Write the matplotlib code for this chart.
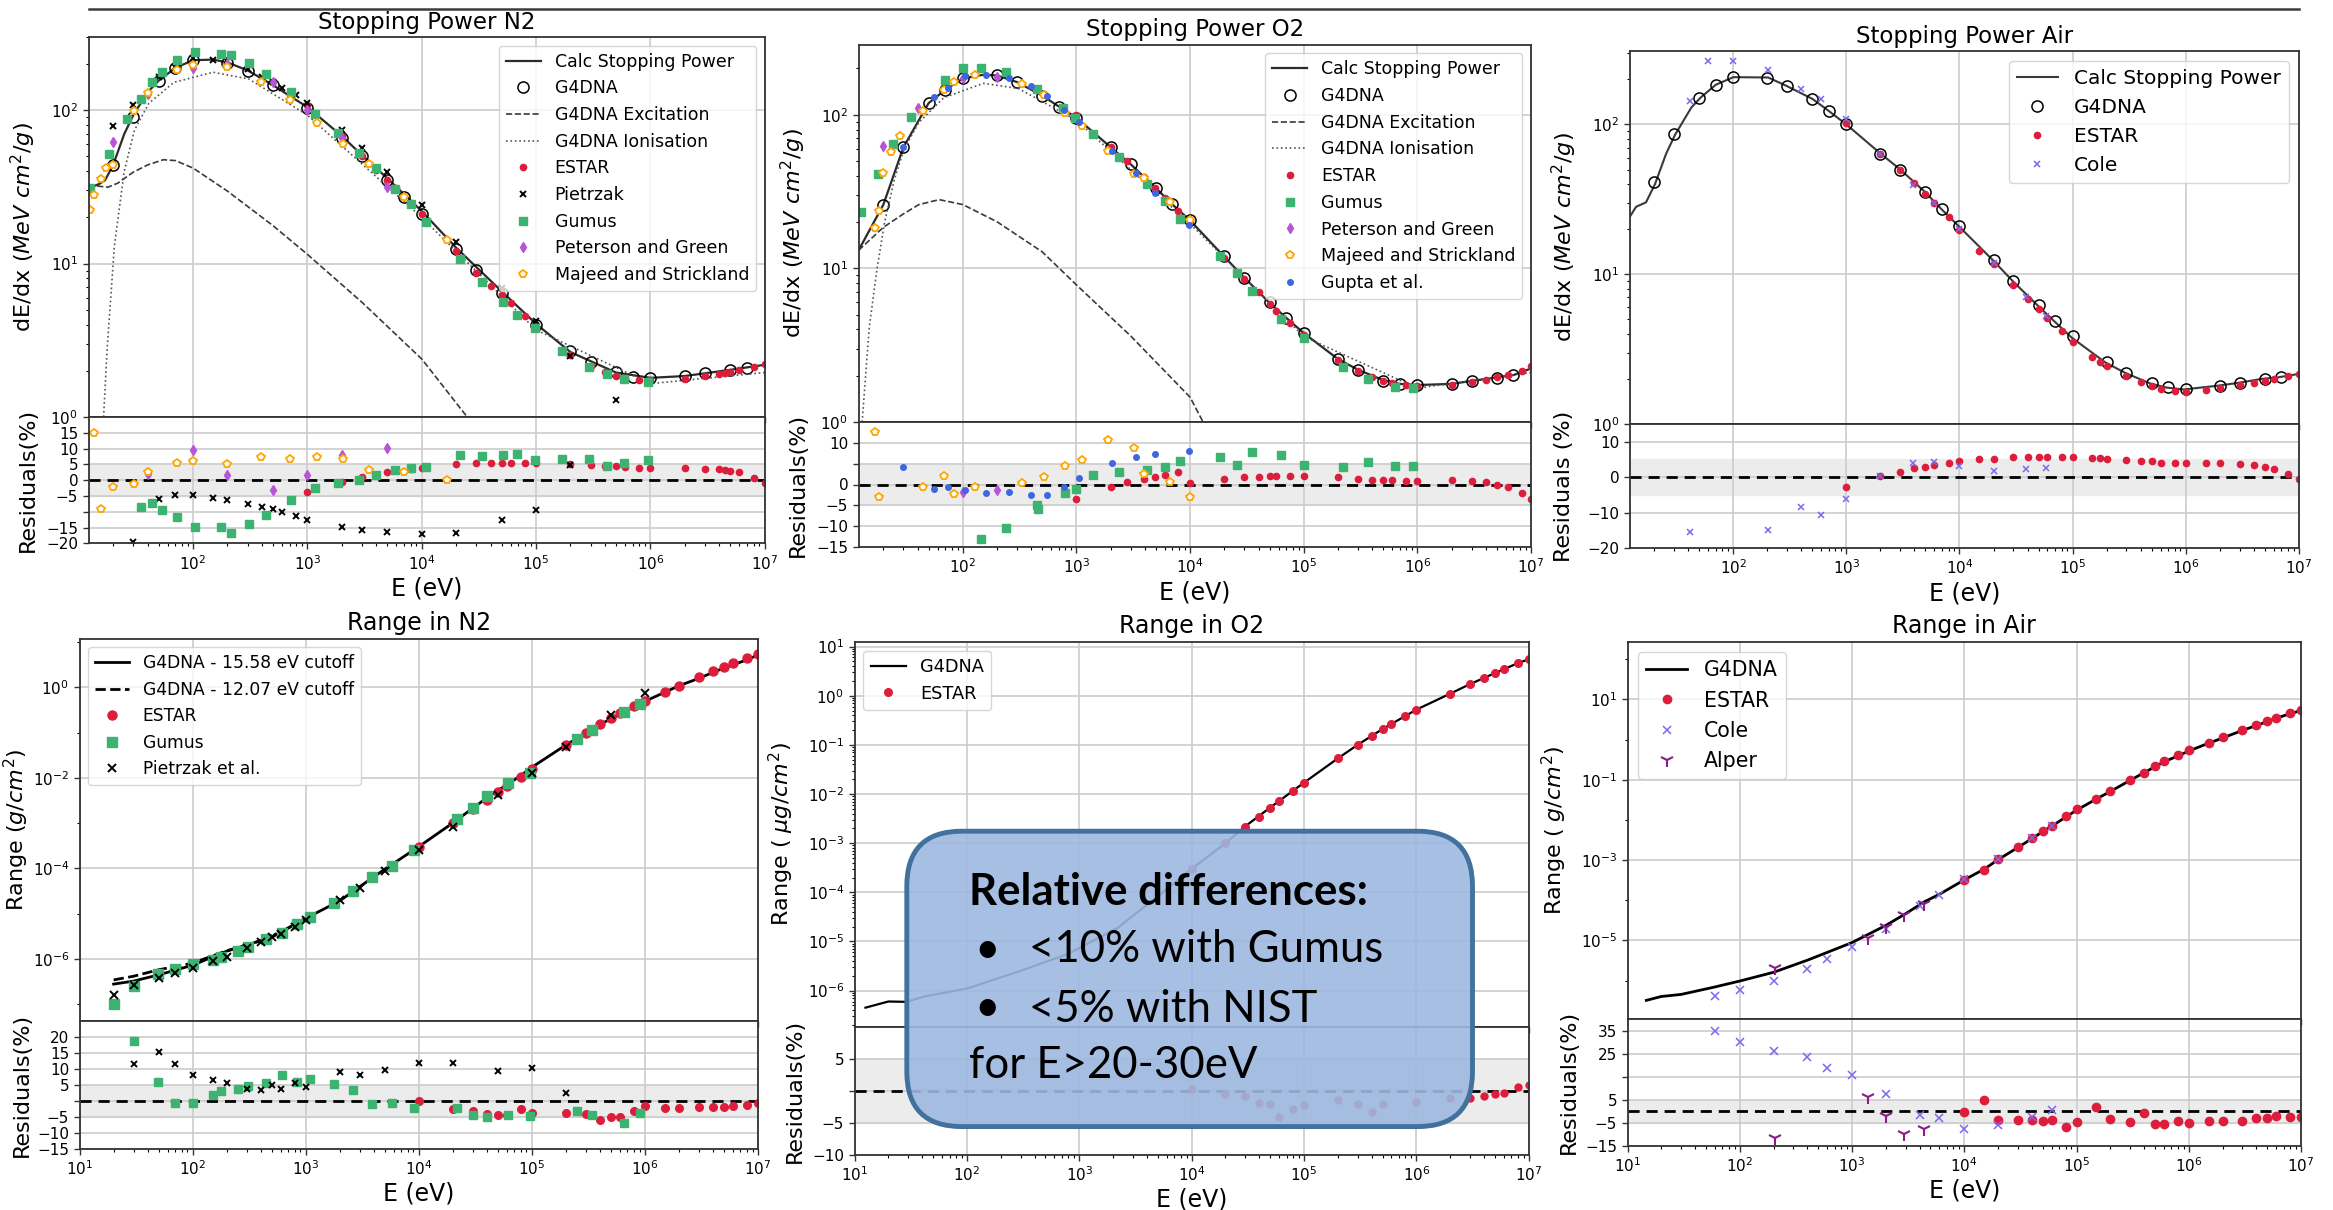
import numpy as np
import matplotlib.pyplot as plt
from matplotlib.patches import FancyBboxPatch
from matplotlib.ticker import LogLocator, NullFormatter

# ---------------- Stopping power in N2 ----------------
e_calc_n2 = [12.2, 15, 17, 20, 25, 30, 40, 50, 70, 100, 150, 200, 300, 500, 700, 1e3, 2e3, 3e3, 5e3,
             1e4, 2e4, 5e4, 1e5, 2e5, 5e5, 1e6, 2e6, 5e6, 1e7]
sp_calc_n2 = [31, 33, 35, 44, 70, 93, 131, 156, 189, 212, 214, 205, 182, 146, 124, 105, 68, 51, 36,
              22, 12.7, 6.6, 4.05, 2.65, 1.95, 1.80, 1.85, 2.03, 2.19]
e_exc_n2 = [12.2, 15, 18, 22, 30, 40, 55, 70, 100, 200, 500, 1e3, 3e3, 1e4, 2.5e4]
sp_exc_n2 = [31, 32, 31.5, 33.5, 39.5, 44, 47.6, 47, 42, 29.7, 17.7, 11.5, 5.6, 2.39, 1.0]
e_ion_n2 = [16.5, 17.7, 20.5, 25, 30.7, 41, 68, 150, 307, 1e3, 1e4, 1e5, 1e6, 1e7]
sp_ion_n2 = [1.0, 2.75, 13, 40, 74, 111, 152, 177, 160, 93, 20, 3.7, 1.65, 1.95]
e_g4_n2 = [20, 30, 50, 70, 100, 200, 300, 500, 1e3, 2e3, 3e3, 5e3, 7e3, 1e4, 2e4, 3e4, 5e4, 1e5, 2e5,
           3e5, 5e5, 7e5, 1e6, 2e6, 3e6, 5e6, 7e6]
sp_g4_n2 = [44, 90.7, 156, 188, 212, 203, 180, 146, 103, 66, 50, 35.3, 27, 21, 12.4, 9.1, 6.4, 4.0, 2.7,
            2.27, 1.98, 1.83, 1.8, 1.86, 1.94, 2.04, 2.1]
e_estar_n2 = [1e3, 2e3, 3e3, 4e3, 5e3, 6e3, 8e3, 1e4, 2e4, 3e4, 4e4, 5e4, 6e4, 8e4, 1e5, 2e5, 3e5, 4e5,
              5e5, 6e5, 8e5, 1e6, 2e6, 3e6, 4e6, 4.5e6, 5e6, 6e6, 8e6, 1e7]
sp_estar_n2 = [109, 68.4, 50.5, 40.8, 35, 31, 25, 21.2, 12.1, 8.7, 7.2, 6.25, 5.5, 4.55, 3.84, 2.52, 2.15,
               1.96, 1.86, 1.8, 1.75, 1.73, 1.78, 1.86, 1.91, 1.94, 1.97, 2.02, 2.13, 2.21]
res_estar_n2 = [-3.8, -0.6, 0.9, 1.8, 2.7, 3.1, 3.7, 3.9, 5.2, 5.5, 5.5, 5.5, 5.5, 5.5, 5.5, 5.2, 4.8, 4.6,
                4.6, 4.2, 3.9, 3.9, 3.9, 3.7, 3.4, 3.2, 3.0, 2.5, 0.6, -1.0]
e_pie_n2 = [20, 30, 50, 70, 100, 150, 200, 300, 400, 500, 600, 800, 1e3, 2e3, 3e3, 5e3, 1e4, 2e4, 5e4,
            1e5, 2e5, 5e5]
sp_pie_n2 = [79.5, 108, 165, 191, 220, 214, 210, 185, 166, 154, 140, 125, 111, 74, 57, 39.5, 24.2, 13.8,
             6.9, 4.2, 2.5, 1.3]
e_pie_res_n2 = [30, 50, 70, 100, 150, 200, 300, 400, 500, 600, 800, 1e3, 2e3, 3e3, 5e3, 1e4, 2e4, 5e4,
                1e5, 2e5]
res_pie_n2 = [-19.4, -5.9, -4.7, -4.7, -5.5, -6.2, -7.4, -8.4, -9.0, -10.0, -11.4, -12.7, -14.8, -15.7,
              -16.4, -17.0, -16.7, -12.7, -9.3, 4.9]
e_gum_n2 = [12.6, 18.3, 26.4, 35, 43.6, 53.3, 73, 105, 177, 216, 307, 436, 718, 1160, 1860, 2840, 3950,
            5880, 8000, 11000, 21500, 33700, 51900, 68000, 98000, 167000, 290000, 420000, 590000, 950000]
sp_gum_n2 = [31, 52, 88, 119, 152, 177, 214, 240, 233, 229, 202, 172, 131, 95, 71, 53, 42, 30.6, 24.3,
             18.6, 10.8, 7.6, 5.6, 4.6, 3.8, 2.7, 2.13, 1.92, 1.76, 1.69]
e_gum_res_n2 = e_gum_n2[3:]
res_gum_n2 = [-8.6, -7.1, -9.3, -11.8, -14.9, -14.9, -16.7, -13.9, -11, -6.2, -2.6, -1.0, 0.2, 1.5, 3.1,
              3.9, 4.3, 8, 7.6, 8, 8.2, 6.4, 6.8, 6.6, 4.6, 5.4, 6.4]
e_pet_n2 = [20, 40.7, 100, 200, 500, 1e3, 2e3, 5e3]
sp_pet_n2 = [62.5, 128, 188, 199, 152, 100, 66, 31.7]
res_pet_n2 = [None, 2.1, 9.7, 1.7, -3.1, 1.7, 8, 10.1]
e_maj_n2 = [12.6, 13.7, 15.7, 17.4, 20, 30.7, 40.7, 73, 100, 200, 394, 700, 1220, 2050, 3450, 7000, 16700]
sp_maj_n2 = [22.5, 28, 35.6, 41.9, 44, 99, 130, 182, 197, 191, 152, 116, 83, 60, 44.4, 27, 14.3]
res_maj_n2 = [None, 15, -9, None, -2, -1.2, 2.7, 5.5, 6.1, 5.2, 7.3, 6.8, 7.3, 6.6, 3.1, 2.5, 0]

# ---------------- Stopping power in O2 ----------------
e_calc_o2 = [12.1, 20, 30, 50, 70, 100, 152, 200, 300, 500, 700, 1e3, 2e3, 3e3, 5e3, 7e3, 1e4, 2e4, 3e4,
             5e4, 7e4, 1e5, 2e5, 3e5, 5e5, 7e5, 1e6, 2e6, 3e6, 5e6, 7e6, 1e7]
sp_calc_o2 = [13.1, 26, 61.4, 119, 145, 172, 182, 180, 163, 133, 113, 95.5, 61.4, 47.6, 33.3, 26, 20.5,
              11.9, 8.7, 5.96, 4.77, 3.79, 2.57, 2.19, 1.87, 1.77, 1.74, 1.77, 1.85, 1.95, 2.02, 2.23]
e_exc_o2 = [12.1, 20, 30, 41, 62, 100, 200, 500, 1e3, 3e3, 1e4, 1.3e4]
sp_exc_o2 = [13.1, 18.5, 22.6, 26, 28, 26, 20.1, 12.8, 7.8, 3.63, 1.45, 1.0]
e_ion_o2 = [13, 15, 17.6, 20.5, 25, 30.5, 41, 68, 152, 308, 1e3, 1e4, 1e5, 1e6, 1e7]
sp_ion_o2 = [1.0, 4.1, 10, 20, 38, 60, 89, 129, 160, 148, 92, 19.5, 3.6, 1.66, 2.1]
e_g4_o2 = [20, 30, 50, 70, 100, 200, 300, 500, 700, 1e3, 2e3, 3e3, 5e3, 7e3, 1e4, 2e4, 3e4, 5e4, 7e4,
           1e5, 2e5, 3e5, 5e5, 7e5, 1e6, 2e6, 3e6, 5e6, 7e6]
sp_g4_o2 = [26, 61.5, 119, 145, 173, 180, 163, 133, 113, 95.5, 61.5, 47.5, 33.5, 26.2, 20.5, 12, 8.7, 6,
            4.75, 3.8, 2.56, 2.18, 1.86, 1.78, 1.74, 1.77, 1.84, 1.93, 2.02]
e_estar_o2 = [1e3, 2e3, 2.8e3, 3.9e3, 4.9e3, 6e3, 7.9e3, 1e4, 2e4, 3e4, 4e4, 5e4, 5.7e4, 7.6e4, 1e5, 2e5,
              3e5, 4e5, 5e5, 6e5, 8e5, 1e6, 2e6, 3e6, 4e6, 5e6, 6.3e6, 8.4e6, 1e7]
sp_estar_o2 = [98.8, 61.8, 49.7, 39.4, 33.2, 28.6, 23.5, 20.4, 11.7, 8.54, 6.97, 5.84, 5.29, 4.41, 3.71,
               2.53, 2.16, 1.97, 1.85, 1.79, 1.74, 1.72, 1.75, 1.83, 1.89, 1.95, 2.01, 2.14, 2.31]
res_estar_o2 = [-3.4, -0.7, 0.5, 1.4, 1.9, 2.3, 2.9, 0.3, 1.4, 1.9, 1.9, 2.1, 2.1, 2.1, 2.1, 1.7, 1.4,
                1.2, 1.2, 1.2, 0.9, 0.9, 1.2, 0.9, 0.6, 0.0, -0.6, -2.0, -3.4]
e_gum_o2 = [12.6, 18.1, 24.5, 34.8, 70, 100, 145, 240, 452, 762, 980, 1390, 2370, 4200, 6000, 8150, 18200,
            25800, 34900, 63600, 1e5, 2.2e5, 3.7e5, 6.3e5, 9.2e5]
sp_gum_o2 = [23.2, 41.2, 64, 96, 169, 201, 201, 190, 147, 111, 95.5, 75, 53, 35.6, 27.5, 21.1, 12, 9.3,
             7.1, 4.7, 3.52, 2.29, 1.9, 1.7, 1.66]
e_gum_res_o2 = [145, 240, 452, 460, 800, 1000, 1390, 2370, 4200, 6000, 8150, 18200, 25800, 34900, 63600,
                1e5, 2.2e5, 3.7e5, 6.3e5, 9.2e5]
res_gum_o2 = [-13, -10.4, -5.0, -5.8, -2.1, -1.1, 2.3, 3.1, 3.4, 4.2, 5.6, 6.7, 4.6, 7.9, 7.1, 4.6, 4.2,
              5.3, 4.4, 4.4]
e_pet_o2 = [20, 40, 100, 200]
sp_pet_o2 = [62.5, 110, 173, 175]
res_pet_o2 = [None, None, -1.7, -1.2]
e_maj_o2 = [16.7, 18.2, 20, 23.3, 28, 44.8, 68, 83.5, 128, 334, 520, 800, 1120, 1890, 3200, 3900, 6600, 1e4]
sp_maj_o2 = [18.2, 23.5, 41.6, 57.4, 73, 106, 145, 163, 180, 158, 135, 102, 84, 58, 41, 38.9, 26.9, 20.5]
res_maj_o2 = [12.5, -3, None, None, None, -0.7, 2.1, -2.3, -0.7, 0.3, 1.9, 4.4, 5.8, 10.6, 8.8, 2.6, 0.7, -3]
e_gup_o2 = [30, 56, 74, 105, 160, 253, 396, 553, 776, 1050, 2070, 3370, 4900, 9700]
sp_gup_o2 = [61.5, 130, 150, 178, 182, 172, 154, 133, 107, 90, 58, 42, 31, 19.2]
res_gup_o2 = [4.2, -1.1, -0.6, -1.4, -2.1, -1.9, -2.6, -2.6, -0.5, 1.6, 5.1, 6.7, 7.4, 8.1]

# ---------------- Stopping power in air ----------------
e_calc_air = [12.2, 13.8, 16.9, 20.3, 25.5, 30.7, 42.6, 51.3, 69.8, 100, 203, 300, 502, 700, 1e3, 2e3, 3e3,
              5e3, 6.9e3, 1e4, 2e4, 3e4, 4.9e4, 6.8e4, 9.8e4, 1.96e5, 2.94e5, 4.9e5, 6.8e5, 9.6e5, 1.9e6,
              2.9e6, 4.7e6, 6.6e6, 1e7]
sp_calc_air = [24.3, 28.2, 30.2, 40, 64, 86, 130, 151, 184, 207, 206, 180, 148, 123, 100, 64, 50, 35.2,
               27.3, 20.7, 12.3, 8.9, 6.2, 4.9, 3.78, 2.57, 2.19, 1.86, 1.75, 1.7, 1.8, 1.88, 2.0, 2.05, 2.16]
e_g4_air = [20, 30, 50, 70, 100, 200, 300, 500, 700, 1e3, 2e3, 3e3, 5e3, 7e3, 1e4, 2e4, 3e4, 5e4, 7e4,
            1e5, 2e5, 3e5, 5e5, 7e5, 1e6, 2e6, 3e6, 5e6, 7e6]
sp_g4_air = [41, 86, 150, 184, 207, 205, 180, 148, 123, 100, 64, 50, 35.3, 27.4, 21, 12.4, 9, 6.2, 4.9,
             3.85, 2.6, 2.2, 1.87, 1.77, 1.72, 1.8, 1.88, 2.0, 2.06]
e_estar_air = [1e3, 2e3, 3e3, 4e3, 5e3, 6e3, 8e3, 1e4, 1.5e4, 2e4, 3e4, 4e4, 5e4, 6e4, 8e4, 1e5, 1.5e5,
               1.75e5, 2e5, 3e5, 4e5, 5e5, 6e5, 8e5, 1e6, 1.5e6, 2e6, 3e6, 4e6, 5e6, 6e6, 8e6, 1e7]
sp_estar_air = [102.8, 63.8, 49.3, 40.5, 34.2, 30, 24.2, 19.8, 14.4, 11.7, 8.43, 6.8, 5.82, 5.1, 4.2, 3.55,
                2.8, 2.6, 2.44, 2.09, 1.9, 1.78, 1.72, 1.66, 1.63, 1.68, 1.73, 1.81, 1.88, 1.94, 1.99,
                2.08, 2.16]
res_estar_air = [-2.7, 0.3, 1.4, 2.5, 2.9, 3.4, 4.0, 4.5, 5.2, 5.2, 5.6, 5.7, 5.7, 5.7, 5.7, 5.6, 5.4, 5.4,
                 5.2, 4.8, 4.6, 4.5, 4.1, 4.0, 4.0, 4.0, 4.0, 3.8, 3.4, 2.9, 2.4, 0.9, -0.5]
e_cole_air = [41, 60, 100, 203, 396, 598, 1e3, 2e3, 3.9e3, 5.9e3, 1e4, 2e4, 3.9e4, 5.8e4]
sp_cole_air = [143, 265, 265, 231, 172, 148, 108, 64, 39.5, 29.8, 20, 11.9, 7.1, 5.3]
res_cole_air = [-15.4, None, None, -14.8, -8.3, -10.8, -6.1, 0.3, 4, 4.3, 3.2, 1.8, 2.2, 2.5]

# ---------------- Range in N2 ----------------
e_rng_n2 = [20, 30, 50, 100, 200, 300, 500, 1e3, 2e3, 3e3, 5e3, 1e4, 2e4, 4e4, 8e4, 1e5, 2e5, 4e5, 6e5,
            1e6, 2e6, 3e6, 5e6, 8e6, 1e7]
rng_n2 = [2.75e-7, 3.2e-7, 4.4e-7, 7.2e-7, 1.47e-6, 2.0e-6, 3.0e-6, 7.8e-6, 1.9e-5, 3.9e-5, 9.5e-5, 3.0e-4,
          1.0e-3, 3.6e-3, 0.0112, 0.017, 0.053, 0.15, 0.255, 0.49, 1.08, 1.58, 2.68, 4.05, 5.2]
e_rng12_n2 = [20, 30, 50, 100, 200, 300, 500, 1e3]
rng12_n2 = [3.4e-7, 4.1e-7, 5.7e-7, 8.0e-7, 1.5e-6, 2.0e-6, 3.0e-6, 7.8e-6]
e_rng_estar_n2 = [1e4, 2e4, 3e4, 4e4, 5e4, 6e4, 8e4, 1e5, 2e5, 3e5, 4e5, 5e5, 6e5, 8e5, 1e6, 1.5e6, 2e6,
                  3e6, 4e6, 5e6, 6e6, 8e6, 1e7]
rng_estar_n2 = [2.9e-4, 9.8e-4, 2.0e-3, 3.3e-3, 4.8e-3, 6.5e-3, 0.0105, 0.0155, 0.052, 0.098, 0.152, 0.21,
                0.27, 0.39, 0.5, 0.8, 1.1, 1.72, 2.3, 2.85, 3.4, 4.4, 5.4]
res_rng_estar_n2 = [0, -2.5, -3.2, -4.1, -4.3, -4.3, -2.5, -3.7, -3.7, -4.1, -6.0, -5.0, -5.0, -3.2, -1.6,
                    -2.2, -2.2, -1.9, -1.9, -1.9, -1.6, -1.2, -0.6]
e_rng_gum_n2 = [20, 30, 49.5, 70, 100, 150, 180, 250, 310, 445, 620, 845, 1090, 1790, 2630, 3890, 5760,
                9100, 21700, 30000, 40000, 62000, 96000, 250000, 340000, 650000, 900000]
rng_gum_n2 = [1.0e-7, 2.5e-7, 4.7e-7, 5.9e-7, 7.6e-7, 9.3e-7, 1.1e-6, 1.47e-6, 1.8e-6, 2.7e-6, 3.8e-6,
              6.0e-6, 8.5e-6, 1.7e-5, 3.1e-5, 6.3e-5, 1.1e-4, 2.6e-4, 1.2e-3, 2.1e-3, 3.96e-3, 7.5e-3, 0.013,
              0.072, 0.114, 0.29, 0.42]
res_rng_gum_n2 = [None, 18.6, 5.8, -0.6, -0.6, 1.7, 3.0, 3.7, 4.6, 5.5, 8, 5.8, 6.8, 5.2, 3.4, -1, -0.6,
                  -2.2, -2.2, -4.3, -5, -4.3, -4.7, -3.2, -4.3, -6.8, -3.7]
e_rng_pie_n2 = [20, 30, 50, 70, 100, 150, 200, 300, 400, 500, 600, 800, 1e3, 2e3, 3e3, 5e3, 1e4, 2e4, 5e4,
                1e5, 2e5, 5e5, 1e6]
rng_pie_n2 = [1.6e-7, 2.6e-7, 3.7e-7, 4.9e-7, 6.2e-7, 8.9e-7, 1.1e-6, 1.7e-6, 2.3e-6, 3.0e-6, 3.6e-6, 5.0e-6,
              7.3e-6, 2.0e-5, 3.6e-5, 8.5e-5, 2.5e-4, 8.3e-4, 4.1e-3, 0.013, 0.048, 0.24, 0.74]
res_rng_pie_n2 = [None, 11.4, 15.2, 11.4, 8.1, 6.5, 5.5, 3.7, 3.4, 4.8, 3.7, 5.5, 4.2, 8.9, 8.1, 9.6, 12,
                  12, 9.2, 10.4, 2.4, None, None]

# ---------------- Range in O2 ----------------
e_rng_o2 = [12.5, 20, 29, 41.6, 100, 289, 800, 2200, 5e3, 1e4, 2e4, 3e4, 5e4, 1e5, 2e5, 3e5, 5e5, 1e6,
            2e6, 3e6, 5e6, 8e6, 1e7]
rng_o2 = [4.5e-7, 6.0e-7, 5.9e-7, 7.6e-7, 1.1e-6, 2.45e-6, 5.6e-6, 1.9e-5, 8.3e-5, 3.0e-4, 1.0e-3, 2.2e-3,
          5.3e-3, 0.017, 0.053, 0.1, 0.21, 0.52, 1.1, 1.72, 2.88, 4.6, 5.5]
e_rng_estar_o2 = [1e4, 2e4, 3e4, 4e4, 5e4, 6e4, 8e4, 1e5, 2e5, 3e5, 4e5, 5e5, 6e5, 8e5, 1e6, 2e6, 3e6, 4e6,
                  5e6, 6e6, 8e6, 1e7]
rng_estar_o2 = [3.0e-4, 1.0e-3, 2.1e-3, 3.4e-3, 5.2e-3, 7.2e-3, 0.0115, 0.017, 0.054, 0.1, 0.15, 0.21, 0.27,
                0.38, 0.51, 1.1, 1.72, 2.3, 2.88, 3.45, 4.55, 5.5]
res_rng_estar_o2 = [0.2, -0.6, -0.9, -2.0, -2.1, -4.1, -2.9, -2.3, -1.5, -2.1, -3.4, -2.1, None, None, -1.8,
                    -1.1, -1.2, -0.8, -0.6, -0.3, 0.5, 0.9]

# ---------------- Range in air ----------------
e_rng_air = [14.7, 20, 30, 60, 100, 200, 400, 600, 1e3, 2e3, 3e3, 4.4e3, 6e3, 1e4, 1.5e4, 2e4, 3e4, 4e4,
             5e4, 6e4, 8e4, 1e5, 1.5e5, 2e5, 3e5, 4e5, 5e5, 6e5, 8e5, 1e6, 1.5e6, 2e6, 3e6, 4e6, 5e6, 6e6,
             8e6, 1e7]
rng_air = [3.2e-7, 4.0e-7, 4.5e-7, 6.9e-7, 9.7e-7, 1.6e-6, 3.2e-6, 5.0e-6, 8.8e-6, 2.35e-5, 4.6e-5, 9.1e-5,
           1.4e-4, 3.2e-4, 5.9e-4, 1.02e-3, 2.05e-3, 3.4e-3, 5.1e-3, 6.9e-3, 0.0117, 0.0174, 0.033, 0.051,
           0.096, 0.15, 0.21, 0.28, 0.39, 0.52, 0.81, 1.09, 1.69, 2.24, 2.8, 3.4, 4.4, 5.3]
e_rng_estar_air = [1e4, 1.5e4, 2e4, 3e4, 4e4, 5e4, 6e4, 8e4, 1e5, 1.5e5, 2e5, 3e5, 4e5, 5e5, 6e5, 8e5, 1e6,
                   1.5e6, 2e6, 3e6, 4e6, 5e6, 6e6, 8e6, 1e7]
rng_estar_air = [3.2e-4, 5.6e-4, 1.06e-3, 2.13e-3, 3.5e-3, 5.3e-3, 7.2e-3, 0.0125, 0.0182, 0.0325, 0.053, 0.1,
                 0.151, 0.222, 0.296, 0.41, 0.55, 0.845, 1.14, 1.76, 2.31, 2.89, 3.47, 4.5, 5.43]
res_rng_estar_air = [-0.4, 4.6, -3.7, -3.7, -3.7, -4.2, -3.9, -6.8, -4.7, 1.8, -3.3, -4.7, -0.7, -5.6, -5.6,
                     -4.2, -5.1, -4.2, -4.2, -4.2, -3.0, -3.0, -2.1, -2.5, -2.5]
e_rng_cole_air = [60, 100, 200, 400, 600, 1e3, 2e3, 4e3, 6e3, 1e4, 2e4, 4e4, 6e4]
rng_cole_air = [4.2e-7, 5.9e-7, 9.8e-7, 1.9e-6, 3.5e-6, 6.8e-6, 1.9e-5, 7.2e-5, 1.35e-4, 3.4e-4, 1.08e-3,
                3.5e-3, 6.9e-3]
res_rng_cole_air = [35, 30.2, 26.3, 23.5, 18.6, 15.6, 7.5, -1.6, -3.0, -7.7, -6.0, -2.5, 0.5]
e_rng_alp_air = [206, 1400, 2000, 2900, 4400]
rng_alp_air = [2.1e-6, 1.17e-5, 2.1e-5, 4.3e-5, 8.1e-5]
res_rng_alp_air = [-11.5, 6.2, -2.1, -9.8, -7.6]

W, H = 2333, 1210
RED = '#dc1e3c'
GREEN = '#3cb371'
ORCHID = '#b655d6'
ORANGE = '#ffa500'
BLUE = '#3f66e0'
SLATE = '#7b68ee'
MAGENTA = '#8b1a8b'
MINUS = '\u2212'

plt.rcParams['font.family'] = 'DejaVu Sans'
plt.rcParams['axes.edgecolor'] = '#333333'
plt.rcParams['axes.linewidth'] = 1.3

fig = plt.figure(figsize=(W / 100, H / 100), dpi=100)


def panel(left, right, top, mid, bottom):
    main = fig.add_axes([left / W, 1 - mid / H, (right - left) / W, (mid - top) / H])
    res = fig.add_axes([left / W, 1 - bottom / H, (right - left) / W, (bottom - mid) / H], sharex=main)
    for ax in (main, res):
        ax.set_xscale('log')
        ax.xaxis.set_minor_locator(LogLocator(base=10, subs=np.arange(2, 10), numticks=100))
        ax.xaxis.set_minor_formatter(NullFormatter())
        ax.grid(True, which='major', color='#cccccc', lw=1.2)
        ax.set_axisbelow(True)
        ax.tick_params(labelsize=11, length=4, width=1, color='#333333')
        ax.tick_params(which='minor', length=2.5, width=0.8)
    main.set_yscale('log')
    main.tick_params(labelbottom=False)
    return main, res


def residual_axis(ax, lim, ticks, hidden, label, lab_x):
    ax.axhspan(-5, 5, color='#ececec', zorder=0)
    ax.axhline(0, color='black', ls=(0, (4, 2.5)), lw=2, zorder=1)
    ax.set_ylim(*lim)
    ax.set_yticks(ticks)
    ax.set_yticklabels(['' if t in hidden else str(t).replace('-', MINUS) for t in ticks])
    ax.set_ylabel(label, fontsize=16)
    ax.yaxis.set_label_coords(lab_x, 0.5)
    ax.set_xlabel('E (eV)', fontsize=17, labelpad=3)


def pts(ax, e, v, **kw):
    e = np.array(e, dtype=float)
    v = np.array([np.nan if x is None else x for x in v], dtype=float)
    ax.plot(e, v, ls='none', **kw)


sp_ylabel = r'dE/dx $(MeV\ cm^2/g)$'

# ----- Stopping Power N2 -----
m, r = panel(88.6, 764.7, 37.1, 417, 543.4)
m.plot(e_calc_n2, sp_calc_n2, color='#2b2b2b', lw=1.6, label='Calc Stopping Power')
pts(m, e_g4_n2, sp_g4_n2, marker='o', ms=8, mfc='none', mec='black', mew=1.1, label='G4DNA')
m.plot(e_exc_n2, sp_exc_n2, color='#3a3a3a', ls='--', lw=1.2, label='G4DNA Excitation')
m.plot(e_ion_n2, sp_ion_n2, color='#555555', ls=':', lw=1.2, label='G4DNA Ionisation')
pts(m, e_estar_n2, sp_estar_n2, marker='o', ms=4.5, color=RED, label='ESTAR')
pts(m, e_pie_n2, sp_pie_n2, marker='x', ms=5, color='black', mew=1.4, label='Pietrzak')
pts(m, e_gum_n2, sp_gum_n2, marker='s', ms=6, color=GREEN, label='Gumus')
pts(m, e_pet_n2, sp_pet_n2, marker='d', ms=5, color=ORCHID, label='Peterson and Green')
pts(m, e_maj_n2, sp_maj_n2, marker='p', ms=6, mfc='white', mec=ORANGE, mew=1.3, label='Majeed and Strickland')
m.set_xlim(12.2, 1e7)
m.set_ylim(1, 300)
m.set_ylabel(sp_ylabel, fontsize=16)
m.yaxis.set_label_coords(-0.075, 0.5)
m.set_title('Stopping Power N2', fontsize=16.5)
m.legend(loc='upper right', fontsize=12.5)
pts(r, e_estar_n2, res_estar_n2, marker='o', ms=4.5, color=RED)
pts(r, e_pie_res_n2, res_pie_n2, marker='x', ms=4.5, color='black', mew=1.4)
pts(r, e_gum_res_n2, res_gum_n2, marker='s', ms=6, color=GREEN)
pts(r, e_pet_n2, res_pet_n2, marker='d', ms=5, color=ORCHID)
pts(r, e_maj_n2, res_maj_n2, marker='p', ms=6, mfc='white', mec=ORANGE, mew=1.3)
residual_axis(r, (-20, 20), [-20, -15, -10, -5, 0, 5, 10, 15], [-10], 'Residuals(%)', -0.075)

# ----- Stopping Power O2 -----
m, r = panel(858.6, 1531, 44.8, 422, 547)
m.plot(e_calc_o2, sp_calc_o2, color='#2b2b2b', lw=1.6, label='Calc Stopping Power')
pts(m, e_g4_o2, sp_g4_o2, marker='o', ms=8, mfc='none', mec='black', mew=1.1, label='G4DNA')
m.plot(e_exc_o2, sp_exc_o2, color='#3a3a3a', ls='--', lw=1.2, label='G4DNA Excitation')
m.plot(e_ion_o2, sp_ion_o2, color='#555555', ls=':', lw=1.2, label='G4DNA Ionisation')
pts(m, e_estar_o2, sp_estar_o2, marker='o', ms=4.5, color=RED, label='ESTAR')
pts(m, e_gum_o2, sp_gum_o2, marker='s', ms=6, color=GREEN, label='Gumus')
pts(m, e_pet_o2, sp_pet_o2, marker='d', ms=5, color=ORCHID, label='Peterson and Green')
pts(m, e_maj_o2, sp_maj_o2, marker='p', ms=6, mfc='white', mec=ORANGE, mew=1.3, label='Majeed and Strickland')
pts(m, e_gup_o2, sp_gup_o2, marker='o', ms=4, color=BLUE, label='Gupta et al.')
m.set_xlim(12.1, 1e7)
m.set_ylim(1, 285)
m.set_ylabel(sp_ylabel, fontsize=16)
m.yaxis.set_label_coords(-0.075, 0.5)
m.set_title('Stopping Power O2', fontsize=16.5)
m.legend(loc='upper right', fontsize=12.5)
pts(r, e_estar_o2, res_estar_o2, marker='o', ms=4.5, color=RED)
pts(r, e_gum_res_o2, res_gum_o2, marker='s', ms=6, color=GREEN)
pts(r, e_pet_o2, res_pet_o2, marker='d', ms=5, color=ORCHID)
pts(r, e_maj_o2, res_maj_o2, marker='p', ms=6, mfc='white', mec=ORANGE, mew=1.3)
pts(r, e_gup_o2, res_gup_o2, marker='o', ms=4, color=BLUE)
residual_axis(r, (-15, 15), [-15, -10, -5, 0, 5, 10], [5], 'Residuals(%)', -0.075)

# ----- Stopping Power Air -----
m, r = panel(1630, 2298.7, 50.9, 424, 548)
m.plot(e_calc_air, sp_calc_air, color='#3a3a3a', lw=1.5, label='Calc Stopping Power')
pts(m, e_g4_air, sp_g4_air, marker='o', ms=8, mfc='none', mec='black', mew=1.1, label='G4DNA')
pts(m, e_estar_air, sp_estar_air, marker='o', ms=4.5, color=RED, label='ESTAR')
pts(m, e_cole_air, sp_cole_air, marker='x', ms=5, color=SLATE, mew=1.1, label='Cole')
m.set_xlim(12.2, 1e7)
m.set_ylim(1, 310)
m.set_ylabel(sp_ylabel, fontsize=16)
m.yaxis.set_label_coords(-0.076, 0.5)
m.set_title('Stopping Power Air', fontsize=16.5)
m.legend(loc='upper right', fontsize=14.5)
pts(r, e_estar_air, res_estar_air, marker='o', ms=4.5, color=RED)
pts(r, e_cole_air, res_cole_air, marker='x', ms=5, color=SLATE, mew=1.1)
residual_axis(r, (-20, 15), [-20, -10, 0, 10], [], 'Residuals (%)', -0.084)

# ----- Range in N2 -----
m, r = panel(79.6, 757.7, 638.6, 1021, 1148.7)
m.plot(e_rng_n2, rng_n2, color='black', lw=2, label='G4DNA - 15.58 eV cutoff')
m.plot(e_rng12_n2, rng12_n2, color='black', lw=2, ls='--', label='G4DNA - 12.07 eV cutoff')
pts(m, e_rng_estar_n2, rng_estar_n2, marker='o', ms=6.5, color=RED, label='ESTAR')
pts(m, e_rng_gum_n2, rng_gum_n2, marker='s', ms=6.5, color=GREEN, label='Gumus')
pts(m, e_rng_pie_n2, rng_pie_n2, marker='x', ms=6, color='black', mew=1.4, label='Pietrzak et al.')
m.set_xlim(10, 1e7)
m.set_ylim(4.2e-8, 12)
m.set_yticks([1e-6, 1e-4, 1e-2, 1e0])
m.yaxis.set_minor_locator(LogLocator(base=10, subs=[1.0], numticks=100))
m.yaxis.set_minor_formatter(NullFormatter())
m.set_ylabel(r'Range $(g/cm^2)$', fontsize=16)
m.yaxis.set_label_coords(-0.071, 0.5)
m.set_title('Range in N2', fontsize=17)
m.legend(loc='upper left', fontsize=12.3)
pts(r, e_rng_estar_n2, res_rng_estar_n2, marker='o', ms=5.5, color=RED)
pts(r, e_rng_gum_n2, res_rng_gum_n2, marker='s', ms=5.5, color=GREEN)
pts(r, e_rng_pie_n2, res_rng_pie_n2, marker='x', ms=5, color='black', mew=1.4)
residual_axis(r, (-15, 25), [-15, -10, -5, 0, 5, 10, 15, 20], [0], 'Residuals(%)', -0.071)

# ----- Range in O2 -----
m, r = panel(854.6, 1528.7, 641.8, 1026.5, 1154.7)
m.plot(e_rng_o2, rng_o2, color='black', lw=1.6, label='G4DNA')
pts(m, e_rng_estar_o2, rng_estar_o2, marker='o', ms=5.5, color=RED, label='ESTAR')
m.set_xlim(10, 1e7)
m.set_ylim(1.86e-7, 12.5)
m.set_yticks([1e-6, 1e-5, 1e-4, 1e-3, 1e-2, 1e-1, 1e0, 1e1])
m.yaxis.set_minor_locator(LogLocator(base=10, subs=np.arange(2, 10), numticks=100))
m.yaxis.set_minor_formatter(NullFormatter())
m.set_ylabel(r'Range ( $\mu g/cm^2$)', fontsize=16)
m.yaxis.set_label_coords(-0.087, 0.5)
m.set_title('Range in O2', fontsize=17)
m.legend(loc='upper left', fontsize=12.8)
pts(r, e_rng_estar_o2, res_rng_estar_o2, marker='o', ms=5, color=RED)
residual_axis(r, (-10, 10), [-10, -5, 0, 5], [0], 'Residuals(%)', -0.074)

# ----- Range in Air -----
m, r = panel(1627.5, 2301, 641.8, 1019, 1145.6)
m.plot(e_rng_air, rng_air, color='black', lw=2, label='G4DNA')
pts(m, e_rng_estar_air, rng_estar_air, marker='o', ms=6, color=RED, label='ESTAR')
pts(m, e_rng_cole_air, rng_cole_air, marker='x', ms=5.5, color=SLATE, mew=1.1, label='Cole')
pts(m, e_rng_alp_air, rng_alp_air, marker='1', ms=10, color=MAGENTA, mew=1.5, label='Alper')
m.set_xlim(10, 1e7)
m.set_ylim(1.1e-7, 272)
m.set_yticks([1e-5, 1e-3, 1e-1, 1e1])
m.yaxis.set_minor_locator(LogLocator(base=10, subs=[1.0], numticks=100))
m.yaxis.set_minor_formatter(NullFormatter())
m.set_ylabel(r'Range ( $g/cm^2$)', fontsize=16)
m.yaxis.set_label_coords(-0.087, 0.5)
m.set_title('Range in Air', fontsize=17)
m.legend(loc='upper left', fontsize=14.8)
pts(r, e_rng_estar_air, res_rng_estar_air, marker='o', ms=6, color=RED)
pts(r, e_rng_cole_air, res_rng_cole_air, marker='x', ms=5.5, color=SLATE, mew=1.1)
pts(r, e_rng_alp_air, res_rng_alp_air, marker='1', ms=10, color=MAGENTA, mew=1.5)
residual_axis(r, (-15, 40), [-15, -5, 5, 15, 25, 35], [15], 'Residuals(%)', -0.072)

# ----- overlay: rule at the top and the summary box -----
ov = fig.add_axes([0, 0, 1, 1], zorder=20)
ov.set_xlim(0, W)
ov.set_ylim(H, 0)
ov.axis('off')
ov.patch.set_alpha(0)
ov.plot([89, 2299], [8.5, 8.5], color='#3c3c3c', lw=1.8)
box = FancyBboxPatch((906.8, 831.2), 565.7, 295.4, boxstyle='round,pad=0,rounding_size=55',
                     fc=(0.62, 0.72, 0.88, 0.9), ec='#41719c', lw=3.5)
ov.add_patch(box)
ov.text(969, 892, 'Relative differences:', fontsize=31.5, fontweight='bold', family='Lato', va='center')
ov.text(974, 950, '\u2022', fontsize=31.5, family='Lato', va='center')
ov.text(1029, 950, '<10% with Gumus', fontsize=31.5, family='Lato', va='center')
ov.text(974, 1009, '\u2022', fontsize=31.5, family='Lato', va='center')
ov.text(1029, 1009, '<5% with NIST', fontsize=31.5, family='Lato', va='center')
ov.text(969, 1065, 'for E>20-30eV', fontsize=31.5, family='Lato', va='center')

fig.savefig('out.png', dpi=100)
